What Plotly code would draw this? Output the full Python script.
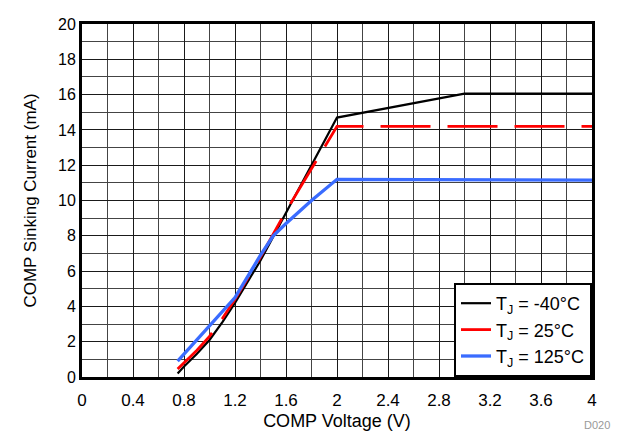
import plotly.graph_objects as go

x_m40 = [0.75, 0.8, 0.9, 1.0, 1.1, 1.2, 1.4, 1.6, 1.8, 2.0, 3.0, 4.0]
y_m40 = [0.2, 0.6, 1.3, 2.1, 3.1, 4.2, 6.6, 9.3, 12.0, 14.7, 16.05, 16.05]
x_25 = [0.75, 0.8, 0.9, 1.0, 1.1, 1.2, 1.4, 1.6, 1.8, 2.0, 4.0]
y_25 = [0.45, 0.8, 1.5, 2.3, 3.3, 4.4, 6.8, 9.4, 11.8, 14.2, 14.2]
x_125 = [0.75, 0.8, 0.9, 1.0, 1.2, 1.4, 1.5, 1.6, 1.8, 2.0, 4.0]
y_125 = [0.9, 1.3, 2.1, 2.85, 4.5, 6.9, 8.0, 8.7, 10.0, 11.2, 11.15]

x_ticks = [0, 0.4, 0.8, 1.2, 1.6, 2, 2.4, 2.8, 3.2, 3.6, 4]
x_labels = ["0", "0.4", "0.8", "1.2", "1.6", "2", "2.4", "2.8", "3.2", "3.6", "4"]
y_ticks = list(range(0, 21, 2))

font = "Liberation Sans, Arial, Helvetica, sans-serif"

fig = go.Figure()
fig.add_trace(go.Scatter(x=x_m40, y=y_m40, mode="lines", name="T<sub>J</sub> = -40°C",
                         line=dict(color="black", width=2.2)))
fig.add_trace(go.Scatter(x=x_25, y=y_25, mode="lines", name="T<sub>J</sub> = 25°C",
                         line=dict(color="#ff0000", width=2.8, dash="50px,17px")))
fig.add_trace(go.Scatter(x=x_125, y=y_125, mode="lines", name="T<sub>J</sub> = 125°C",
                         line=dict(color="#3a6cff", width=3.3)))

axis_common = dict(showline=True, linecolor="black", linewidth=3, mirror=True,
                   gridcolor="#1a1a1a", gridwidth=1, zeroline=False, ticks="")

fig.update_xaxes(range=[0, 4], tickvals=x_ticks, ticktext=x_labels, ticklabelstandoff=6,
                 tickfont=dict(size=17, color="black", family=font),
                 minor=dict(dtick=0.2, showgrid=True, gridcolor="#444", gridwidth=1),
                 title=dict(text="COMP Voltage (V)", font=dict(size=18, color="black", family=font),
                            standoff=5),
                 **axis_common)
fig.update_yaxes(range=[0, 20], tickvals=y_ticks,
                 tickfont=dict(size=16, color="black", family=font),
                 minor=dict(dtick=1, showgrid=True, gridcolor="#444", gridwidth=1),
                 title=dict(text="COMP Sinking Current (mA)", font=dict(size=17, color="black", family=font),
                            standoff=18),
                 **axis_common)

fig.update_layout(
    width=614, height=428,
    margin=dict(l=74, r=30, t=8, b=58),
    plot_bgcolor="white", paper_bgcolor="white",
    font=dict(family=font, color="black", size=16),
    legend=dict(x=1, y=0, xanchor="right", yanchor="bottom",
                bgcolor="white", bordercolor="black", borderwidth=2,
                font=dict(size=18, color="black", family=font),
                tracegroupgap=0),
    showlegend=True,
)
fig.add_annotation(text="D020", xref="paper", yref="paper", x=1.04, y=-0.135,
                   xanchor="right", yanchor="middle", showarrow=False,
                   font=dict(size=11, color="#999999", family=font))

fig.write_html("out.html")
